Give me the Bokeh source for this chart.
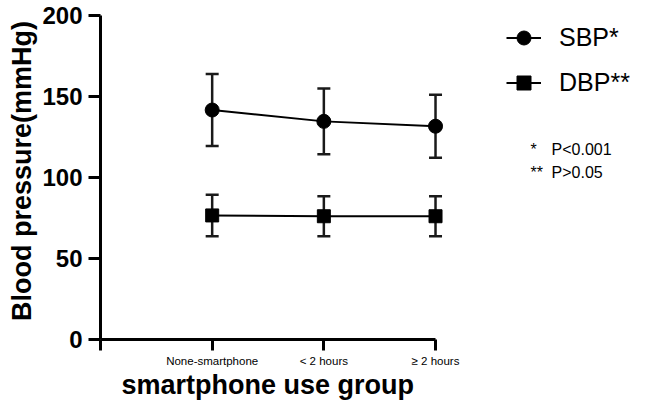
from bokeh.plotting import figure
from bokeh.models import (Range1d, ColumnDataSource, Whisker, TeeHead, Legend, LegendItem,
                          FixedTicker, Title)
from bokeh.core.properties import value
from bokeh.embed import file_html
from bokeh.resources import INLINE

# ---- data ----
categories = ["None-smartphone", "< 2 hours", "≥ 2 hours"]
sbp_mean = [141.5, 134.5, 131.5]
sbp_sd = [22.2, 20.3, 19.4]
dbp_mean = [76.5, 76.0, 76.0]
dbp_sd = [12.8, 12.3, 12.3]
y_ticks = [0, 50, 100, 150, 200]
series_labels = ["SBP*", "DBP**"]
note_marks = ["*", "**"]
note_texts = ["P<0.001", "P>0.05"]

xpos = list(range(1, len(categories) + 1))

FONT = "Liberation Sans"
INK = "black"

p = figure(width=631, height=404, output_backend="svg", toolbar_location=None,
           x_range=Range1d(0, 4.755), y_range=Range1d(0, 207.8),
           min_border_left=100, min_border_right=0, min_border_top=2, min_border_bottom=65)
p.outline_line_color = None
p.grid.visible = False
p.background_fill_color = "white"

sbp_src = ColumnDataSource(dict(x=xpos, y=sbp_mean,
                                upper=[m + s for m, s in zip(sbp_mean, sbp_sd)],
                                lower=[m - s for m, s in zip(sbp_mean, sbp_sd)]))
dbp_src = ColumnDataSource(dict(x=xpos, y=dbp_mean,
                                upper=[m + s for m, s in zip(dbp_mean, dbp_sd)],
                                lower=[m - s for m, s in zip(dbp_mean, dbp_sd)]))

for src in (sbp_src, dbp_src):
    w = Whisker(source=src, base="x", upper="upper", lower="lower", dimension="height",
                line_color="#1a1a1a", line_width=2.5,
                upper_head=TeeHead(size=13, line_width=2.5, line_color="#1a1a1a"),
                lower_head=TeeHead(size=13, line_width=2.5, line_color="#1a1a1a"))
    p.add_layout(w)

sbp_line = p.line("x", "y", source=sbp_src, line_color=INK, line_width=2)
sbp_pts = p.scatter("x", "y", source=sbp_src, marker="circle", size=14,
                    fill_color=INK, line_color=INK)
dbp_line = p.line("x", "y", source=dbp_src, line_color=INK, line_width=2)
dbp_pts = p.scatter("x", "y", source=dbp_src, marker="square", size=13,
                    fill_color=INK, line_color=INK)

# ---- axes ----
yax = p.yaxis[0]
yax.ticker = FixedTicker(ticks=y_ticks)
yax.bounds = (0, 200)
yax.axis_line_width = 3
yax.axis_line_color = INK
yax.major_tick_line_width = 3
yax.major_tick_line_color = INK
yax.major_tick_out = 12
yax.major_tick_in = 0
yax.minor_tick_line_color = None
yax.major_label_text_font = FONT
yax.major_label_text_font_style = "bold"
yax.major_label_text_font_size = "24px"
yax.major_label_text_color = INK
yax.major_label_standoff = 6
yax.axis_label = "Blood pressure(mmHg)"
yax.axis_label_text_font = FONT
yax.axis_label_text_font_style = "bold"
yax.axis_label_text_font_size = "27px"
yax.axis_label_text_color = INK
yax.axis_label_standoff = 2

xax = p.xaxis[0]
xax.ticker = FixedTicker(ticks=[0] + xpos)
xax.major_label_overrides = {0: "", **{x: c for x, c in zip(xpos, categories)}}
xax.bounds = (0, len(categories))
xax.axis_line_width = 3
xax.axis_line_color = INK
xax.major_tick_line_width = 3
xax.major_tick_line_color = INK
xax.major_tick_out = 11
xax.major_tick_in = 0
xax.minor_tick_line_color = None
xax.major_label_text_font = FONT
xax.major_label_text_font_size = "11.5px"
xax.major_label_text_color = INK
xax.major_label_standoff = 4

# x-axis title, centred under the category span (a left-aligned title with an offset)
p.add_layout(Title(text="smartphone use group", align="left", offset=21,
                   vertical_align="top", standoff=0, text_color=INK,
                   text_font=FONT, text_font_style="bold", text_font_size="27px"), "below")

# ---- legend ----
legend = Legend(items=[LegendItem(label=series_labels[0], renderers=[sbp_line, sbp_pts]),
                       LegendItem(label=series_labels[1], renderers=[dbp_line, dbp_pts])],
                location=(406, 234), orientation="vertical",
                label_text_font=FONT, label_text_font_size="25px", label_text_color=INK,
                glyph_width=35, glyph_height=45, label_height=45, label_standoff=18,
                spacing=0, padding=0, margin=0,
                border_line_alpha=0, background_fill_alpha=0)
p.add_layout(legend)

# ---- p-value notes ----
note_src = ColumnDataSource(dict(xm=[3.851, 3.851], xt=[4.039, 4.039], y=[117.3, 102.8],
                                 m=note_marks, t=note_texts))
p.text(x="xm", y="y", text="m", source=note_src, text_font=value(FONT),
       text_font_size="16px", text_baseline="alphabetic", text_color=INK)
p.text(x="xt", y="y", text="t", source=note_src, text_font=value(FONT),
       text_font_size="16px", text_baseline="alphabetic", text_color=INK)

open("out.html", "w").write(file_html(p, INLINE))
